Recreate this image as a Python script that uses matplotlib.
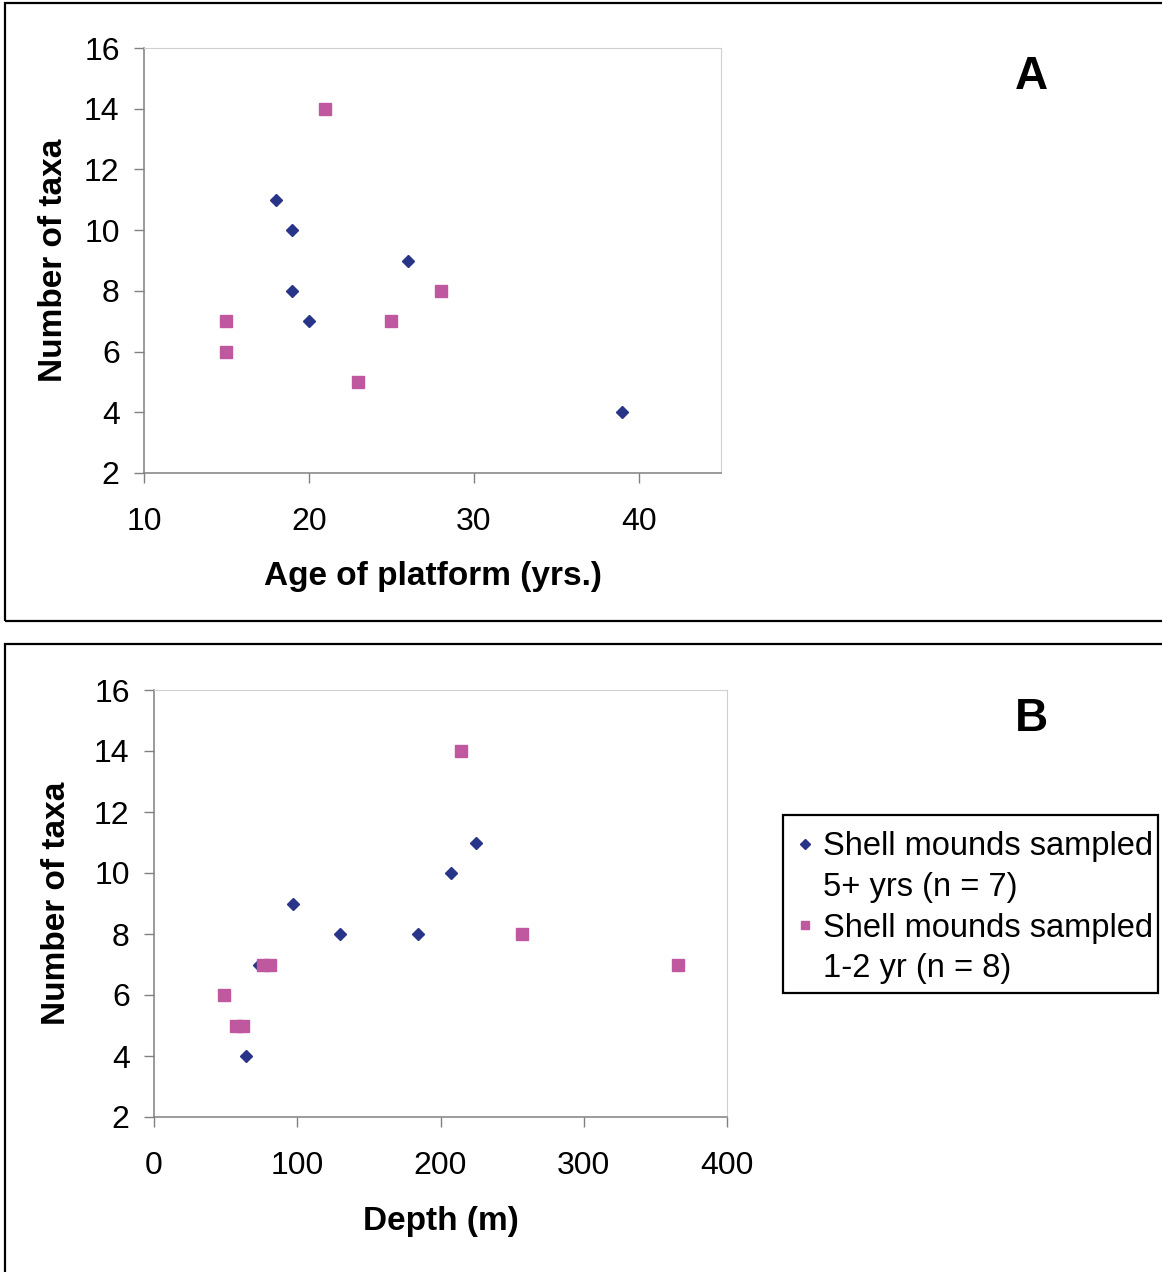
import numpy as np
import matplotlib.pyplot as plt
from matplotlib.patches import Rectangle
from matplotlib.lines import Line2D

# panel A: age of platform vs number of taxa
age_old = [18, 19, 19, 20, 26, 39]
taxa_old_a = [11, 10, 8, 7, 9, 4]
age_new = [21, 15, 15, 23, 25, 28]
taxa_new_a = [14, 7, 6, 5, 7, 8]

# panel B: depth vs number of taxa
depth_old = [64, 73, 97, 130, 184, 207, 225]
taxa_old_b = [4, 7, 9, 8, 8, 10, 11]
depth_new = [49, 57, 62, 76, 81, 214, 257, 366]
taxa_new_b = [6, 5, 5, 7, 7, 14, 8, 7]

legend_lines = ['Shell mounds sampled', '5+ yrs (n = 7)',
                'Shell mounds sampled', '1-2 yr (n = 8)']

blue = '#283487'
pink = '#C0589F'
W, H = 1162, 1272
FS = 23

fig = plt.figure(figsize=(W / 100, H / 100), dpi=100)
plt.rcParams['font.family'] = ['Liberation Sans', 'DejaVu Sans']


def px_axes(left, top, right, bottom):
    return fig.add_axes([left / W, 1 - bottom / H, (right - left) / W, (bottom - top) / H])


def px_box(x0, y0, x1, y1):
    fig.patches.append(Rectangle((x0 / W, 1 - y1 / H), (x1 - x0) / W, (y1 - y0) / H,
                                 transform=fig.transFigure, fill=False,
                                 edgecolor='black', linewidth=1.6))


# outer frames of the two panels and the legend box
px_box(5, 3, 1175, 621)
px_box(5, 644, 1175, 1285)
px_box(783, 815, 1158, 993)


def style(ax):
    for s in ['top', 'right']:
        ax.spines[s].set_color('#d0d0d0')
        ax.spines[s].set_linewidth(0.8)
    for s in ['left', 'bottom']:
        ax.spines[s].set_color('#808080')
        ax.spines[s].set_linewidth(1.1)
    ax.tick_params(direction='out', length=7.5, width=1.0, color='#808080',
                   labelsize=FS)
    ax.tick_params(axis='x', pad=17)
    ax.tick_params(axis='y', pad=10)
    ax.set_yticks(np.arange(2, 17, 2))
    ax.set_ylim(2, 16)


axA = px_axes(144, 48, 721, 473)
axA.plot(age_old, taxa_old_a, 'D', color=blue, markersize=6.5, linestyle='none')
axA.plot(age_new, taxa_new_a, 's', color=pink, markersize=8.5, linestyle='none')
axA.set_xlim(10, 45)
axA.set_xticks([10, 20, 30, 40])
style(axA)
axA.set_xlabel('Age of platform (yrs.)', fontsize=24, fontweight='bold', labelpad=17)
axA.set_ylabel('Number of taxa', fontsize=24, fontweight='bold', labelpad=11)
fig.text(1031 / W, 1 - 77 / H, 'A', fontsize=33, fontweight='bold', ha='center', va='center')

axB = px_axes(154, 690, 727, 1117)
h1, = axB.plot(depth_old, taxa_old_b, 'D', color=blue, markersize=6.5, linestyle='none')
h2, = axB.plot(depth_new, taxa_new_b, 's', color=pink, markersize=8.5, linestyle='none')
axB.set_xlim(0, 400)
axB.set_xticks([0, 100, 200, 300, 400])
style(axB)
axB.set_xlabel('Depth (m)', fontsize=24, fontweight='bold', labelpad=18)
axB.set_ylabel('Number of taxa', fontsize=24, fontweight='bold', labelpad=16)
fig.text(1031 / W, 1 - 719 / H, 'B', fontsize=33, fontweight='bold', ha='center', va='center')

blank = Line2D([], [], linestyle='none')
leg = fig.legend([h1, blank, h2, blank], legend_lines, loc='upper left',
                 bbox_to_anchor=(798 / W, 1 - 831 / H), fontsize=23.5,
                 frameon=False, handlelength=0.4, handletextpad=0.36,
                 borderpad=0, borderaxespad=0, labelspacing=0.3,
                 markerscale=0.75)

fig.savefig('out.png', dpi=100, facecolor='white')
